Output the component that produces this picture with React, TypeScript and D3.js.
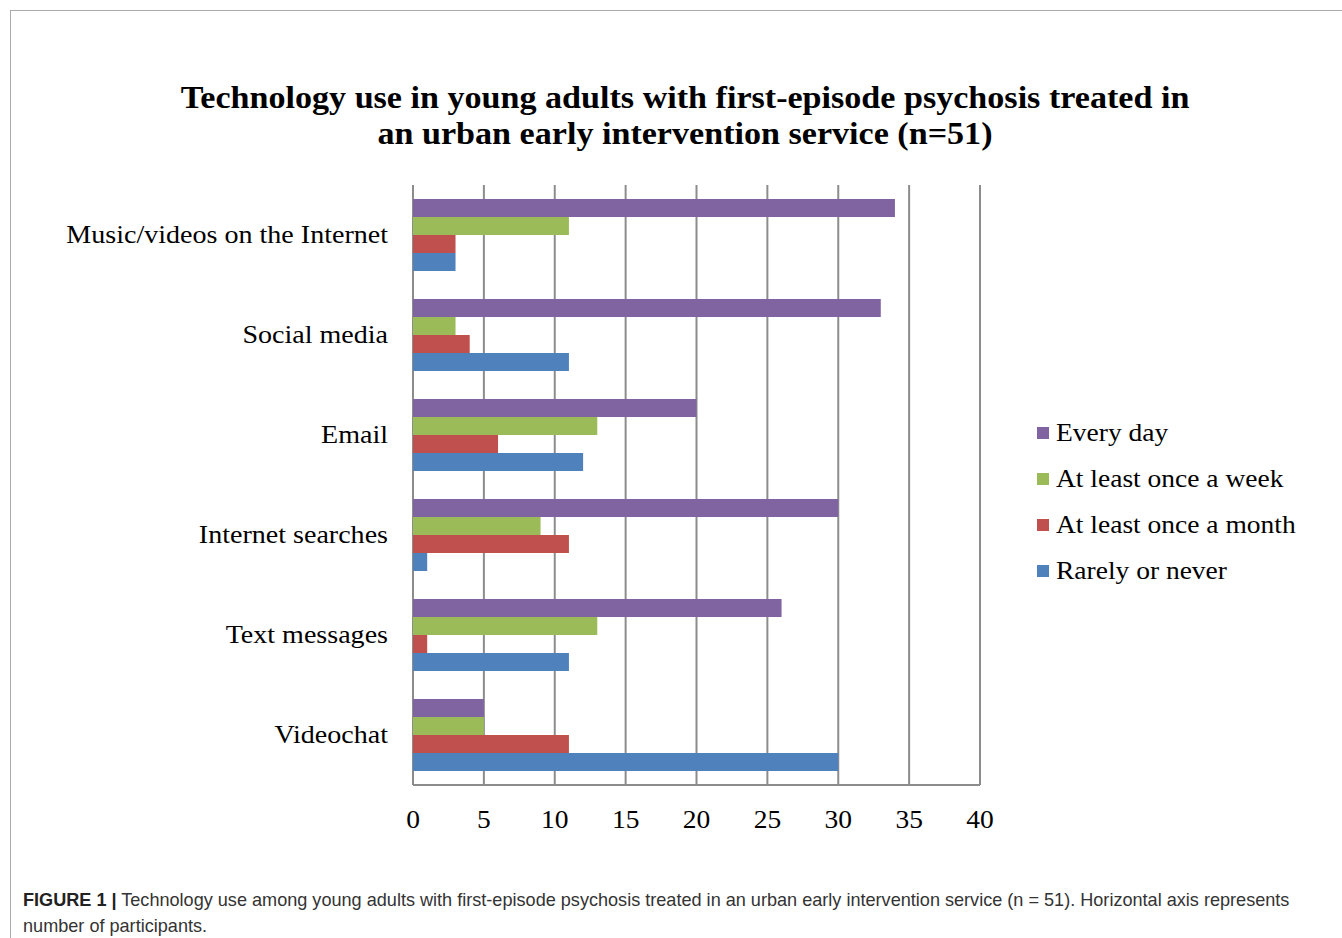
import React from "react";
import * as d3 from "d3";

const categories = [
  "Music/videos on the Internet",
  "Social media",
  "Email",
  "Internet searches",
  "Text messages",
  "Videochat",
];
const seriesNames = ["Every day", "At least once a week", "At least once a month", "Rarely or never"];
const seriesColors = ["#8064A2", "#9BBB59", "#C0504D", "#4F81BD"];
const everyDay = [34, 33, 20, 30, 26, 5];
const onceAWeek = [11, 3, 13, 9, 13, 5];
const onceAMonth = [3, 4, 6, 11, 1, 11];
const rarelyNever = [3, 11, 12, 1, 11, 30];
const seriesValues = [everyDay, onceAWeek, onceAMonth, rarelyNever];
const xTicks = [0, 5, 10, 15, 20, 25, 30, 35, 40];
const titleLines = [
  "Technology use in young adults with first-episode psychosis treated in",
  "an urban early intervention service (n=51)",
];
const captionBold = "FIGURE 1 |";
const captionLine1 =
  " Technology use among young adults with first-episode psychosis treated in an urban early intervention service (n = 51). Horizontal axis represents";
const captionLine2 = "number of participants.";

const SX = 1.1; // horizontal stretch to approximate the wider serif face

function SText(props: { x: number; y: number; anchor?: string; size: number; bold?: boolean; children: React.ReactNode }) {
  return (
    <g transform={`translate(${props.x},${props.y}) scale(${SX},1)`}>
      <text
        x={0}
        y={0}
        textAnchor={props.anchor || "start"}
        fontFamily="'Liberation Serif', 'Times New Roman', serif"
        fontWeight={props.bold ? "bold" : "normal"}
        fontSize={props.size}
        fill="#000"
      >
        {props.children}
      </text>
    </g>
  );
}

export default function App() {
  const W = 1342;
  const H = 938;
  const left = 413;
  const right = 980;
  const top = 185;
  const bottom = 785;
  const x = d3.scaleLinear().domain([0, 40]).range([left, right]);
  const y = d3.scaleBand().domain(categories).range([top, bottom]).paddingInner(0.28).paddingOuter(0.14);
  const inner = d3.scaleBand().domain(seriesNames).range([0, y.bandwidth()]);
  const gridColor = "#8c8c8c";
  return (
    <svg width={W} height={H} style={{ position: "absolute", left: 0, top: 0, background: "#fff" }}>
      <line x1={10} y1={10.5} x2={W} y2={10.5} stroke="#aaa" strokeWidth={1} />
      <line x1={10.5} y1={10} x2={10.5} y2={H} stroke="#aaa" strokeWidth={1} />
      {titleLines.map((t, i) => (
        <SText key={i} x={685} y={108 + i * 36} anchor="middle" size={31} bold>
          {t}
        </SText>
      ))}
      {xTicks.map((t) => (
        <line key={t} x1={x(t)} x2={x(t)} y1={top} y2={bottom} stroke={gridColor} strokeWidth={2} />
      ))}
      <line x1={left} x2={right} y1={bottom} y2={bottom} stroke={gridColor} strokeWidth={2} />
      {categories.map((c, ci) => (
        <g key={c}>
          {seriesValues.map((vals, si) => (
            <rect
              key={si}
              x={x(0)}
              y={(y(c) as number) + (inner(seriesNames[si]) as number)}
              width={x(vals[ci]) - x(0)}
              height={inner.bandwidth()}
              fill={seriesColors[si]}
            />
          ))}
          <SText x={388} y={(y(c) as number) + y.bandwidth() / 2 + 8} anchor="end" size={25.5}>
            {c}
          </SText>
        </g>
      ))}
      {xTicks.map((t) => (
        <SText key={t} x={x(t)} y={828} anchor="middle" size={25}>
          {t}
        </SText>
      ))}
      {seriesNames.map((s, i) => (
        <g key={s}>
          <rect x={1037} y={427 + i * 46} width={12} height={12} fill={seriesColors[i]} />
          <SText x={1056} y={441 + i * 46} size={25}>
            {s}
          </SText>
        </g>
      ))}
      <text x={23} y={906} fontFamily="'Liberation Sans', Arial, sans-serif" fontSize={18.1} fill="#333">
        <tspan fontWeight="bold" fill="#222">{captionBold}</tspan>
        <tspan>{captionLine1}</tspan>
      </text>
      <text x={23} y={932} fontFamily="'Liberation Sans', Arial, sans-serif" fontSize={18.1} fill="#333">
        {captionLine2}
      </text>
    </svg>
  );
}
